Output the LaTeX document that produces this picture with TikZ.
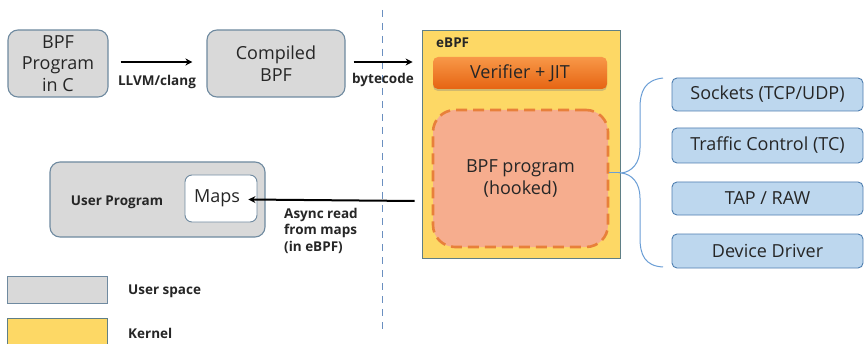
\documentclass[tikz,border=0pt]{standalone}
\usepackage{fontspec}
\setmainfont{Open Sans}
\usetikzlibrary{arrows.meta,shadows}
\definecolor{grayfill}{HTML}{D9D9D9}
\definecolor{grayline}{HTML}{6F8AA0}
\definecolor{kern}{HTML}{FDD865}
\definecolor{kernline}{HTML}{5F7F86}
\definecolor{hookfill}{HTML}{F6AD8E}
\definecolor{hookline}{HTML}{E8803A}
\definecolor{bluefill}{HTML}{BDD7EE}
\definecolor{blueline}{HTML}{4F7FB0}
\definecolor{bracecol}{HTML}{6A9ED6}
\definecolor{txt}{HTML}{262626}
\definecolor{sepline}{HTML}{6A8FC0}
\begin{document}
\begin{tikzpicture}[x=1pt,y=1pt,
  every node/.style={text=txt, inner sep=0pt},
  mainfont/.style={font=\fontsize{18}{21.5}\selectfont},
  boldfont/.style={font=\fontsize{13.5}{16.5}\selectfont\bfseries},
  userbox/.style={draw=grayline, line width=1.1pt, fill=grayfill, rounded corners=10pt, mainfont, align=center},
  kernbox/.style={draw=kernline, line width=0.8pt, fill=kern},
  bluebox/.style={draw=blueline, line width=0.9pt, fill=bluefill, rounded corners=5pt, mainfont, minimum width=191pt},
  flow/.style={line width=2pt, -{Stealth[length=7pt,width=7pt]}}
]
\clip (0,0) rectangle (864,343);
\fill[white] (0,0) rectangle (864,343);

% separator
\draw[sepline, line width=0.8pt, dash pattern=on 7pt off 6pt] (382,333) -- (382,8);

% user space top row
\node[userbox, minimum width=100pt, minimum height=67pt] (src) at (58,279.5) {BPF\\Program\\in C};
\node[userbox, minimum width=138pt, minimum height=67pt] (comp) at (276,279.5) {Compiled\\BPF};

% kernel eBPF
\node[kernbox, minimum width=198pt, minimum height=228pt] (ebpf) at (521,199) {};
\node[boldfont, anchor=west] (ebpflbl) at (436,300) {eBPF};
\node[rounded corners=5pt, minimum width=174pt, minimum height=32pt, mainfont,
      top color={rgb,255:red,248;green,152;blue,72}, bottom color={rgb,255:red,230;green,100;blue,18},
      drop shadow={shadow xshift=0pt, shadow yshift=-2pt, opacity=0.35}] (ver) at (520,270) {Verifier + JIT};
\node[draw=hookline, line width=2.6pt, dash pattern=on 11pt off 6pt, fill=hookfill, rounded corners=22pt,
      minimum width=175pt, minimum height=137pt, mainfont, align=center] (hook) at (520.5,164.5) {BPF program\\(hooked)};

% hook targets
\node[bluebox, minimum height=33pt] (sock) at (767.5,248.5) {Sockets (TCP/UDP)};
\node[bluebox, minimum height=35pt] (tc) at (767.5,197.5) {Traffic Control (TC)};
\node[bluebox, minimum height=33pt] (tap) at (767.5,144.5) {TAP / RAW};
\node[bluebox, minimum height=34pt] (dd) at (767.5,92) {Device Driver};

% brace
\coordinate (tip) at (621,170);
\draw[bracecol, line width=1pt] (hook.east |- tip) -- (tip);
\draw[bracecol, line width=1pt]
  (663,265) .. controls (645,263) and (640,252) .. (640,235)
  -- (640,195) .. controls (640,180) and (632,171) .. (tip)
  .. controls (632,169) and (640,160) .. (640,145)
  -- (640,105) .. controls (640,88) and (645,77) .. (663,76);

% user program
\node[userbox, minimum width=215pt, minimum height=75pt] (user) at (157.5,143.5) {};
\node[boldfont] (userlbl) at (117,141) {User Program};
\node[draw=grayline, line width=0.9pt, fill=white, rounded corners=7pt, minimum width=72pt, minimum height=47pt, mainfont] (maps) at (221,144.5) {Maps\hspace*{8pt}};

% arrows
\draw[flow] ([xshift=12pt,yshift=1.5pt]src.east) -- ([xshift=-14pt,yshift=1.5pt]comp.west);
\node[boldfont] (llvm) at (157,261) {LLVM/clang};
\draw[flow] ([xshift=8pt,yshift=1.5pt]comp.east) -- ([xshift=-9pt,yshift=82pt]ebpf.west);
\node[boldfont] (bytecode) at (383,263) {bytecode};
\draw[flow] ([xshift=-7pt,yshift=-57pt]ebpf.west) -- ([xshift=-9pt,yshift=-1pt]maps.east);
\node[boldfont, anchor=north west, align=left] (async) at (284,135) {Async read\\from maps\\(in eBPF)};

% legend
\node[draw=grayline, line width=0.8pt, fill=grayfill, minimum width=100pt, minimum height=27pt] (leguser) at (57,53.5) {};
\node[boldfont, anchor=west] (leguserlbl) at (128,52) {User space};
\node[kernbox, minimum width=100pt, minimum height=27pt] (legkern) at (57,11.5) {};
\node[boldfont, anchor=west] (legkernlbl) at (128,10) {Kernel};
\end{tikzpicture}
\end{document}
